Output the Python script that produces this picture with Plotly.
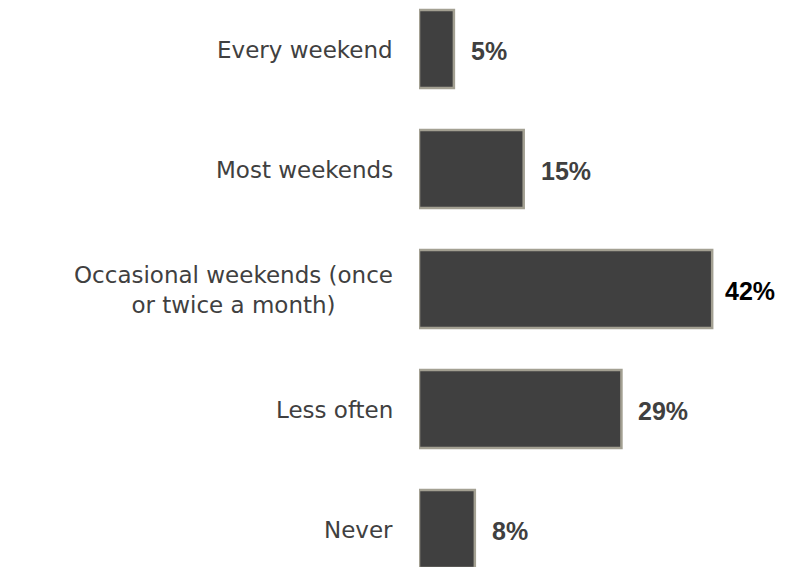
import plotly.graph_objects as go

categories = [
    "Every weekend",
    "Most weekends",
    "Occasional weekends (once<br>or twice a month)",
    "Less often",
    "Never",
]
values = [5, 15, 42, 29, 8]
value_labels = ["5%", "15%", "42%", "29%", "8%"]

BAR_FILL = "#404040"
BAR_LINE = "#a3a092"
TEXT = "#404040"

fig = go.Figure()
fig.add_trace(go.Bar(
    x=values,
    y=categories,
    orientation="h",
    width=0.65,
    marker=dict(color=BAR_FILL, line=dict(color=BAR_LINE, width=2.5)),
    hoverinfo="skip",
))

annotations = []
vmax = max(values)
for cat, v, lab in zip(categories, values, value_labels):
    is_max = v == vmax
    annotations.append(dict(
        x=v, y=cat, xref="x", yref="y", text="<b>" + lab + "</b>",
        showarrow=False, xanchor="left", yanchor="middle",
        xshift=11 if is_max else 15, yshift=-2,
        font=dict(family="Liberation Sans, Arial, sans-serif", size=25,
                  color="#000000" if is_max else TEXT),
    ))
    annotations.append(dict(
        x=0, y=cat, xref="paper", yref="y", text=cat,
        showarrow=False, xanchor="right", yanchor="middle", align="center",
        xshift=-24, yshift=-1,
        font=dict(family="DejaVu Sans, sans-serif", size=23, color=TEXT),
    ))

fig.update_layout(
    width=792, height=567,
    margin=dict(l=411, r=0, t=0, b=0),
    paper_bgcolor="white", plot_bgcolor="white",
    showlegend=False,
    xaxis=dict(range=[0, 54.58], visible=False, fixedrange=True),
    yaxis=dict(type="category", range=[4.383, -0.342], visible=False,
               fixedrange=True),
    annotations=annotations,
)

fig.write_html("out.html")
